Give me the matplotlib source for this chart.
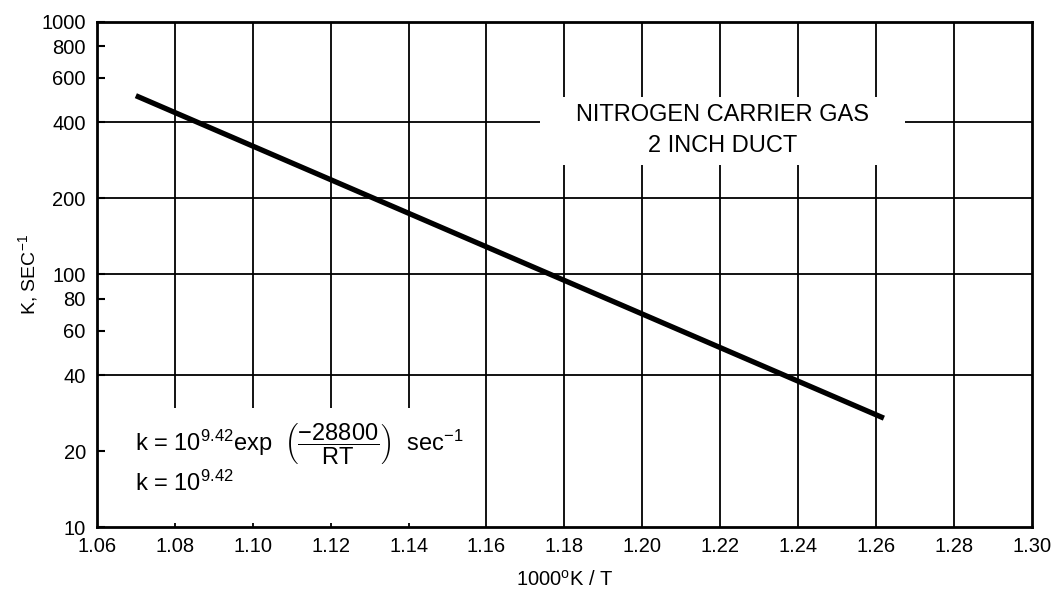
import matplotlib.pyplot as plt
from matplotlib.patches import Rectangle
from matplotlib.ticker import FixedLocator, NullLocator

plt.rcParams['font.family'] = ['Liberation Sans', 'DejaVu Sans']
plt.rcParams['mathtext.fontset'] = 'custom'
plt.rcParams['mathtext.rm'] = 'Liberation Sans'
plt.rcParams['mathtext.it'] = 'Liberation Sans'
plt.rcParams['mathtext.bf'] = 'Liberation Sans:bold'

# data
inv_t = [1.07, 1.262]
k_rate = [510, 27]

x_ticks = [1.06, 1.08, 1.10, 1.12, 1.14, 1.16, 1.18, 1.20, 1.22, 1.24, 1.26, 1.28, 1.30]
y_ticks = [10, 20, 40, 60, 80, 100, 200, 400, 600, 800, 1000]
y_grid = [40, 100, 200, 400]

fig = plt.figure(figsize=(10.53, 5.89), dpi=100)
ax = fig.add_axes([0.092, 0.105, 0.888, 0.858])

ax.set_yscale('log')
ax.set_xlim(1.06, 1.30)
ax.set_ylim(10, 1000)

# grid
for xv in x_ticks[1:-1]:
    ax.axvline(xv, color='black', lw=1.3, zorder=1)
for yv in y_grid:
    ax.axhline(yv, color='black', lw=1.3, zorder=1)

# white areas behind the labels
ax.add_patch(Rectangle((1.1737, 270), 0.0937, 234, facecolor='white',
                       edgecolor='none', zorder=2))
ax.add_patch(Rectangle((1.0655, 10.4), 0.0902, 19.3, facecolor='white',
                       edgecolor='none', zorder=2))

ax.plot(inv_t, k_rate, color='black', lw=3.8, solid_capstyle='butt', zorder=3)

ax.text(1.2207, 372, 'NITROGEN CARRIER GAS\n2 INCH DUCT', ha='center', va='center',
        fontsize=17, linespacing=1.5, zorder=4)
ax.text(1.0698, 21.3, r'k = 10$^{9.42}$exp  $\left(\dfrac{-28800}{\mathrm{RT}}\right)$  sec$^{-1}$',
        ha='left', va='center', fontsize=17, zorder=4)
ax.text(1.0698, 14.9, r'k = 10$^{9.42}$', ha='left', va='center', fontsize=17, zorder=4)

ax.xaxis.set_major_locator(FixedLocator(x_ticks))
ax.set_xticklabels([f'{v:.2f}' for v in x_ticks])
ax.yaxis.set_major_locator(FixedLocator(y_ticks))
ax.yaxis.set_minor_locator(NullLocator())
ax.set_yticklabels([str(v) for v in y_ticks])

ax.tick_params(axis='both', labelsize=14.5, direction='in', length=6, width=1.5)
ax.tick_params(axis='x', length=0, pad=7)
ax.tick_params(axis='y', pad=8)

for s in ax.spines.values():
    s.set_linewidth(2)

ax.set_xlabel(r'1000$^{\mathrm{o}}$K / T', fontsize=14.5, labelpad=10)
ax.set_ylabel(r'K, SEC$^{-1}$', fontsize=14, labelpad=1)

fig.savefig('out.png', dpi=100)
